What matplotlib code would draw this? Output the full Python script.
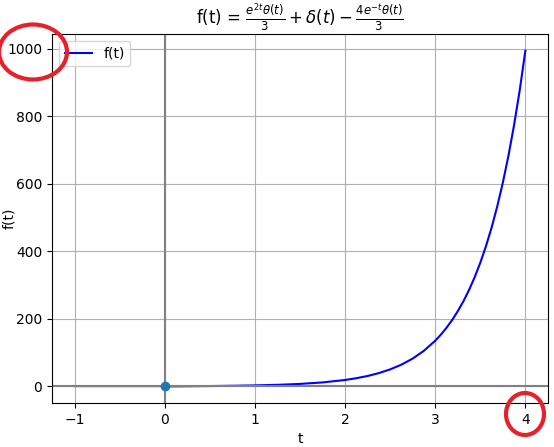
import numpy as np
import matplotlib
matplotlib.use("Agg")
import matplotlib.pyplot as plt
from matplotlib.patches import Ellipse

# values
t_vals = [-1.0, -0.5, -0.01, 0.0, 0.25, 0.5, 0.75, 1.0, 1.25, 1.5, 1.75, 2.0,
          2.125, 2.25, 2.375, 2.5, 2.625, 2.75, 2.875, 3.0, 3.0625, 3.125,
          3.1875, 3.25, 3.3125, 3.375, 3.4375, 3.5, 3.5625, 3.625, 3.6875,
          3.75, 3.8125, 3.875, 3.9375, 4.0]
f_vals = [0.0, 0.0, 0.0, -1.0, -0.5, 0.1, 0.9, 2.0, 3.7, 6.4, 10.8, 18.0,
          23.3, 29.9, 38.5, 49.4, 63.5, 81.5, 104.7, 134.4, 152.4, 172.7,
          195.6, 221.7, 251.2, 284.7, 322.6, 365.5, 414.2, 469.4, 531.9,
          602.7, 682.9, 773.9, 876.9, 993.7]
delta_t = [0]
delta_y = [0]

fig = plt.figure(figsize=(5.54, 4.47), dpi=100)
ax = fig.add_subplot(111)
fig.subplots_adjust(left=0.094, right=0.989, bottom=0.098, top=0.924)

ax.plot(t_vals, f_vals, color='blue', label='f(t)')
ax.scatter(delta_t, delta_y, zorder=3)
ax.axhline(0, color='gray')
ax.axvline(0, color='gray')

ax.set_title(r'f(t) = $\frac{e^{2t}\theta(t)}{3} + \delta(t) - \frac{4e^{-t}\theta(t)}{3}$')
ax.set_xlabel('t')
ax.set_ylabel('f(t)')
ax.yaxis.set_label_coords(-0.072, 0.5)
ax.grid(True)
ax.legend(loc='upper left')

# red hand-drawn circles
for cx, cy, w, h in [(33, 52, 68, 55), (525, 414, 38, 42)]:
    e = Ellipse((cx / 554, 1 - cy / 447), w / 554, h / 447, transform=fig.transFigure,
                fill=False, edgecolor='#e8202a', linewidth=3, clip_on=False)
    fig.add_artist(e)

fig.savefig('out.png', dpi=100)
